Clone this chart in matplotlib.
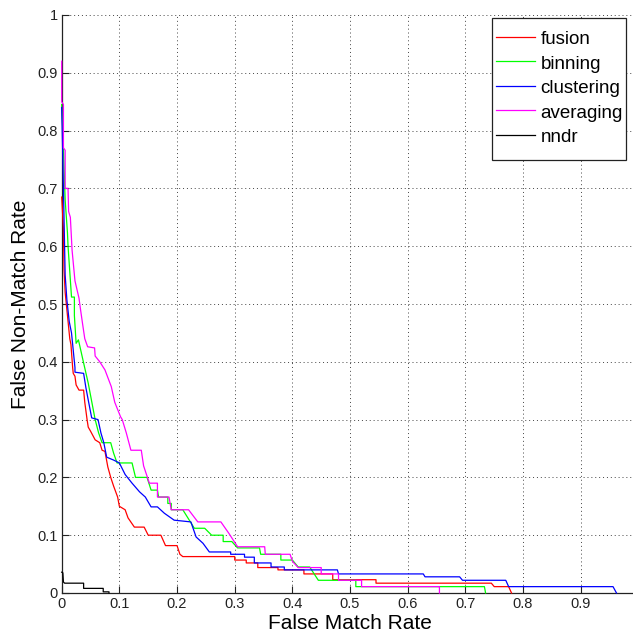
import matplotlib
matplotlib.use("Agg")
import matplotlib.pyplot as plt
from matplotlib.patches import Rectangle

plt.rcParams['font.family'] = ['Liberation Sans', 'DejaVu Sans']

labels = ["fusion", "binning", "clustering", "averaging", "nndr"]
colors = ["#ff0000", "#00ff00", "#0000ff", "#ff00ff", "#000000"]

fusion_fmr = [0, 0.003, 0.004, 0.006, 0.010, 0.011, 0.014, 0.016, 0.019, 0.020, 0.023, 0.025, 0.030, 0.038,
              0.040, 0.044, 0.046, 0.050, 0.058, 0.066, 0.070, 0.075, 0.080, 0.085, 0.090, 0.097, 0.100,
              0.110, 0.115, 0.126, 0.143, 0.150, 0.172, 0.180, 0.200, 0.205, 0.210, 0.300, 0.300, 0.320,
              0.320, 0.340, 0.340, 0.375, 0.375, 0.420, 0.420, 0.470, 0.470, 0.545, 0.545, 0.745, 0.750,
              0.775, 0.780]
fusion_fnmr = [0.685, 0.630, 0.560, 0.520, 0.480, 0.470, 0.440, 0.430, 0.390, 0.380, 0.375, 0.360, 0.351, 0.351,
               0.330, 0.300, 0.287, 0.280, 0.265, 0.260, 0.247, 0.245, 0.218, 0.200, 0.185, 0.166, 0.150,
               0.144, 0.130, 0.114, 0.114, 0.100, 0.100, 0.082, 0.082, 0.067, 0.063, 0.063, 0.057, 0.057,
               0.052, 0.052, 0.044, 0.044, 0.040, 0.040, 0.033, 0.033, 0.023, 0.023, 0.017, 0.017, 0.011,
               0.011, 0.0]

binning_fmr = [0, 0.002, 0.004, 0.006, 0.010, 0.011, 0.017, 0.022, 0.022, 0.025, 0.029, 0.038, 0.046, 0.058,
               0.064, 0.070, 0.085, 0.090, 0.096, 0.122, 0.128, 0.148, 0.155, 0.166, 0.168, 0.184, 0.184,
               0.190, 0.190, 0.210, 0.230, 0.248, 0.260, 0.280, 0.280, 0.295, 0.305, 0.343, 0.345, 0.380,
               0.380, 0.400, 0.410, 0.430, 0.445, 0.510, 0.510, 0.733, 0.735]
binning_fnmr = [0.845, 0.800, 0.740, 0.680, 0.623, 0.600, 0.512, 0.512, 0.480, 0.432, 0.438, 0.398, 0.363, 0.300,
                0.277, 0.260, 0.260, 0.242, 0.225, 0.225, 0.200, 0.200, 0.178, 0.178, 0.166, 0.166, 0.155,
                0.155, 0.144, 0.144, 0.112, 0.112, 0.100, 0.100, 0.089, 0.089, 0.078, 0.078, 0.067, 0.067,
                0.057, 0.057, 0.045, 0.045, 0.022, 0.022, 0.011, 0.011, 0.0]

clustering_fmr = [0, 0.002, 0.004, 0.006, 0.009, 0.013, 0.017, 0.020, 0.023, 0.023, 0.038, 0.042, 0.046, 0.052,
                  0.063, 0.068, 0.073, 0.078, 0.090, 0.100, 0.110, 0.122, 0.135, 0.145, 0.155, 0.166, 0.178,
                  0.195, 0.224, 0.233, 0.245, 0.256, 0.293, 0.293, 0.317, 0.317, 0.334, 0.334, 0.363, 0.363,
                  0.386, 0.386, 0.478, 0.480, 0.627, 0.630, 0.690, 0.695, 0.770, 0.775, 0.956, 0.962]
clustering_fnmr = [0.840, 0.750, 0.650, 0.550, 0.507, 0.470, 0.450, 0.420, 0.390, 0.382, 0.380, 0.355, 0.334, 0.303,
                   0.300, 0.277, 0.260, 0.235, 0.230, 0.225, 0.205, 0.190, 0.175, 0.166, 0.149, 0.149, 0.138,
                   0.126, 0.123, 0.097, 0.086, 0.071, 0.071, 0.067, 0.067, 0.062, 0.062, 0.052, 0.052, 0.045,
                   0.045, 0.040, 0.040, 0.033, 0.033, 0.028, 0.028, 0.022, 0.022, 0.011, 0.011, 0.0]

averaging_fmr = [0, 0, 0.003, 0.003, 0.006, 0.006, 0.011, 0.012, 0.015, 0.018, 0.023, 0.030, 0.032, 0.036,
                 0.040, 0.045, 0.057, 0.058, 0.066, 0.075, 0.086, 0.092, 0.102, 0.105, 0.112, 0.120, 0.138,
                 0.142, 0.152, 0.166, 0.166, 0.186, 0.190, 0.220, 0.236, 0.276, 0.290, 0.305, 0.352, 0.353,
                 0.396, 0.400, 0.410, 0.450, 0.450, 0.480, 0.480, 0.520, 0.520, 0.655, 0.655]
averaging_fnmr = [0.920, 0.850, 0.845, 0.770, 0.766, 0.700, 0.700, 0.660, 0.650, 0.593, 0.540, 0.510, 0.495, 0.467,
                  0.440, 0.426, 0.424, 0.410, 0.400, 0.386, 0.357, 0.330, 0.305, 0.300, 0.277, 0.247, 0.247,
                  0.220, 0.190, 0.190, 0.166, 0.166, 0.144, 0.144, 0.123, 0.123, 0.103, 0.080, 0.080, 0.067,
                  0.067, 0.055, 0.044, 0.044, 0.033, 0.033, 0.022, 0.022, 0.011, 0.011, 0.0]

nndr_fmr = [0, 0.002, 0.003, 0.005, 0.038, 0.038, 0.072, 0.072, 0.082, 0.082]
nndr_fnmr = [0.036, 0.035, 0.019, 0.017, 0.017, 0.008, 0.008, 0.002, 0.002, 0.0]

series_x = [fusion_fmr, binning_fmr, clustering_fmr, averaging_fmr, nndr_fmr]
series_y = [fusion_fnmr, binning_fnmr, clustering_fnmr, averaging_fnmr, nndr_fnmr]

xticks = [0, 0.1, 0.2, 0.3, 0.4, 0.5, 0.6, 0.7, 0.8, 0.9]
xticklabels = ["0", "0.1", "0.2", "0.3", "0.4", "0.5", "0.6", "0.7", "0.8", "0.9"]
yticks = [0, 0.1, 0.2, 0.3, 0.4, 0.5, 0.6, 0.7, 0.8, 0.9, 1]
yticklabels = ["0", "0.1", "0.2", "0.3", "0.4", "0.5", "0.6", "0.7", "0.8", "0.9", "1"]

W, H = 633, 635
fig = plt.figure(figsize=(W / 100, H / 100), dpi=100)
ax = fig.add_axes([61.7 / W, (H - 593) / H, 576.7 / W, 578 / H])

for xs, ys, c, lab in zip(series_x, series_y, colors, labels):
    ax.plot(xs, ys, color=c, lw=0.9, label=lab, zorder=3, clip_on=False)

ax.set_xlim(0, 1)
ax.set_ylim(0, 1)
ax.set_xticks(xticks)
ax.set_xticklabels(xticklabels)
ax.set_yticks(yticks)
ax.set_yticklabels(yticklabels)
ax.tick_params(direction='in', length=5, width=0.8, labelsize=10.5, colors='#222222', pad=3)
for s in ['top', 'right']:
    ax.spines[s].set_visible(False)
for s in ['left', 'bottom']:
    ax.spines[s].set_linewidth(0.9)
    ax.spines[s].set_color('#222222')
ax.grid(True, color='#444444', linestyle=(0, (1, 3)), linewidth=0.7)
ax.set_axisbelow(True)

ax.set_xlabel("False Match Rate", fontsize=15, labelpad=2)
ax.set_ylabel("False Non-Match Rate", fontsize=15, labelpad=5)

# legend frame box (figure pixel coordinates converted to fractions)
frame = Rectangle((492 / W, 1 - 160 / H), (626 - 492) / W, (160 - 18) / H,
                  transform=fig.transFigure, facecolor='white', edgecolor='#222222',
                  linewidth=0.9, zorder=4.9, clip_on=False)
ax.add_patch(frame)

leg = ax.legend(loc='upper right', bbox_to_anchor=(628.5 / W, 1 - 24 / H), bbox_transform=fig.transFigure,
                fontsize=13.5, frameon=False,
                handlelength=2.05, handleheight=1.0, handletextpad=0.3, borderpad=0.3,
                labelspacing=0.3, borderaxespad=0)
leg.set_zorder(5)
for line in leg.get_lines():
    line.set_linewidth(0.9)

fig.savefig("out.png", dpi=100)
